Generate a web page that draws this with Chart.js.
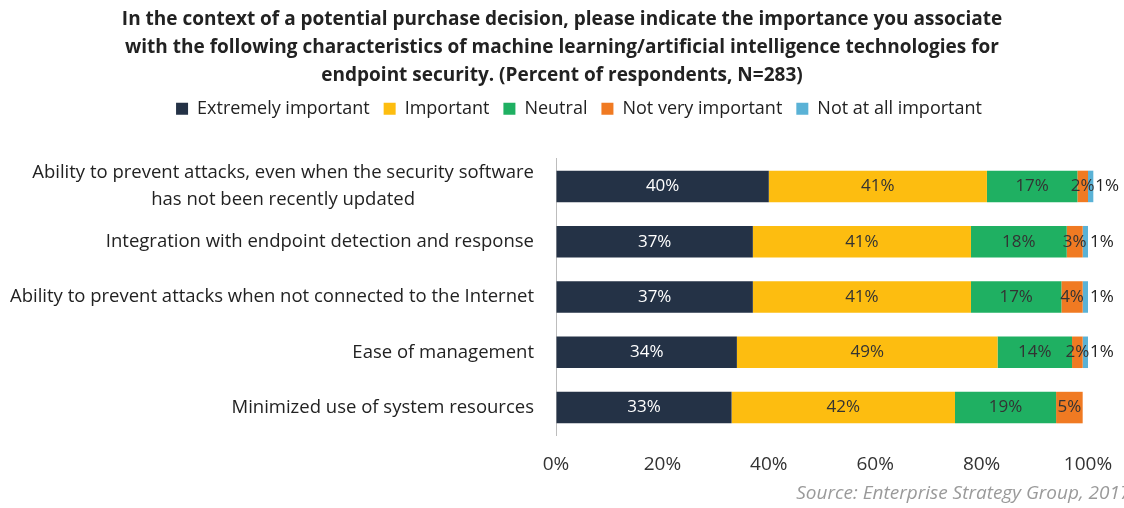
<!DOCTYPE html>
<html>
<head>
<meta charset="utf-8">
<script src="https://cdn.jsdelivr.net/npm/chart.js@4/dist/chart.umd.min.js"></script>
<style>
  html, body { margin: 0; padding: 0; background: #fff; }
  #wrap { width: 1124px; height: 508px; }
</style>
</head>
<body>
<div id="wrap"><canvas id="chart"></canvas></div>
<script>
// Survey answers, percent of respondents
const characteristics = [
    ['Ability to prevent attacks, even when the security software', 'has not been recently updated'],
    ['Integration with endpoint detection and response'],
    ['Ability to prevent attacks when not connected to the Internet'],
    ['Ease of management'],
    ['Minimized use of system resources']
];
const extremelyImportant = [40, 37, 37, 34, 33];
const important          = [41, 41, 41, 49, 42];
const neutral            = [17, 18, 17, 14, 19];
const notVeryImportant   = [2, 3, 4, 2, 5];
const notAtAllImportant  = [1, 1, 1, 1, 0];
const xTicks = [0, 20, 40, 60, 80, 100];

const FONT = "'Open Sans', Lato, sans-serif";

// percent labels on each segment; the last series is written just past the bar end
const segmentLabels = {
    id: 'segmentLabels',
    afterDatasetsDraw(chart) {
        const ctx = chart.ctx;
        ctx.save();
        ctx.font = '17px ' + FONT;
        ctx.textBaseline = 'middle';
        chart.data.datasets.forEach((ds, di) => {
            const meta = chart.getDatasetMeta(di);
            meta.data.forEach((bar, i) => {
                const v = ds.data[i];
                if (!v) return;
                const text = v + '%';
                if (di === chart.data.datasets.length - 1) {
                    ctx.textAlign = 'left';
                    ctx.fillStyle = '#222';
                    ctx.fillText(text, bar.x + 2, bar.y);
                } else {
                    ctx.textAlign = 'center';
                    ctx.fillStyle = di === 0 ? '#fff' : '#333';
                    ctx.fillText(text, (bar.x + bar.base) / 2, bar.y);
                }
            });
        });
        ctx.restore();
    }
};

// category names, each block right-aligned against the axis with its lines centred
const categoryLabels = {
    id: 'categoryLabels',
    afterDraw(chart) {
        const ctx = chart.ctx;
        const y = chart.scales.y;
        const right = chart.chartArea.left - 22;
        const lineH = 27;
        ctx.save();
        ctx.font = '18.5px ' + FONT;
        ctx.fillStyle = '#222';
        ctx.textBaseline = 'middle';
        characteristics.forEach((lines, i) => {
            const widest = Math.max(...lines.map(l => ctx.measureText(l).width));
            const cx = right - widest / 2;
            const cy = y.getPixelForValue(i);
            lines.forEach((l, k) => {
                ctx.textAlign = 'center';
                ctx.fillText(l, cx, cy + (k - (lines.length - 1) / 2) * lineH);
            });
        });
        ctx.restore();
    }
};

// extra room under the legend, and the legend nudged a little right
const legendGap = {
    id: 'legendGap',
    beforeInit(chart) {
        const fit = chart.legend.fit;
        chart.legend.fit = function () {
            fit.bind(chart.legend)();
            this.height += 31;
        };
    },
    afterLayout(chart) {
        chart.legend.left += 17;
        chart.legend.right += 17;
    }
};

// source note, bottom right (runs off the edge)
const sourceNote = {
    id: 'sourceNote',
    afterDraw(chart) {
        const ctx = chart.ctx;
        ctx.save();
        ctx.font = 'italic 19px ' + FONT;
        ctx.fillStyle = '#9a9a9a';
        ctx.textAlign = 'left';
        ctx.textBaseline = 'middle';
        const shown = ctx.measureText('Source: Enterprise Strategy Group, 201').width;
        ctx.fillText('Source: Enterprise Strategy Group, 2017', chart.width - 4 - shown, 494);
        ctx.restore();
    }
};

const ctx = document.getElementById('chart');

// eslint-disable-next-line no-undef
const chart = new Chart(ctx, {
    type: 'bar',
    data: {
        labels: characteristics.map(c => c.join(' ')),
        datasets: [
            { label: 'Extremely important', data: extremelyImportant, backgroundColor: '#243246' },
            { label: 'Important', data: important, backgroundColor: '#fdbd10' },
            { label: 'Neutral', data: neutral, backgroundColor: '#1fb062' },
            { label: 'Not very important', data: notVeryImportant, backgroundColor: '#f07a22' },
            { label: 'Not at all important', data: notAtAllImportant, backgroundColor: '#5ab2d6' }
        ]
    },
    options: {
        indexAxis: 'y',
        responsive: true,
        maintainAspectRatio: false,
        animation: false,
        layout: { padding: { left: 36, right: 36, top: 0, bottom: 32 } },
        datasets: {
            bar: { categoryPercentage: 1, barPercentage: 0.57, clip: false }
        },
        scales: {
            x: {
                stacked: true,
                min: 0,
                max: 100,
                afterBuildTicks: scale => { scale.ticks = xTicks.map(v => ({ value: v })); },
                // invisible tick marks keep the labels clear of the bars
                grid: { color: 'transparent', drawOnChartArea: false, drawTicks: true, tickLength: 18 },
                border: { display: false },
                ticks: {
                    padding: 0,
                    color: '#333',
                    font: { family: FONT, size: 19 },
                    callback: v => v + '%'
                }
            },
            y: {
                stacked: true,
                grid: { display: false, drawTicks: false },
                border: { display: true, color: '#bdbdbd', width: 1 },
                ticks: { display: false },
                afterFit: scale => { scale.width = 520; }
            }
        },
        plugins: {
            title: {
                display: true,
                text: [
                    'In the context of a potential purchase decision, please indicate the importance you associate',
                    'with the following characteristics of machine learning/artificial intelligence technologies for',
                    'endpoint security. (Percent of respondents, N=283)'
                ],
                color: '#222',
                font: { family: FONT, size: 19, weight: 'bold', lineHeight: 1.47 },
                padding: { top: 6, bottom: -4 }
            },
            legend: {
                labels: {
                    color: '#222',
                    boxWidth: 12,
                    boxHeight: 12,
                    padding: 14,
                    font: { family: FONT, size: 18 }
                }
            },
            tooltip: { enabled: false }
        }
    },
    plugins: [legendGap, segmentLabels, categoryLabels, sourceNote]
});
</script>
</body>
</html>
